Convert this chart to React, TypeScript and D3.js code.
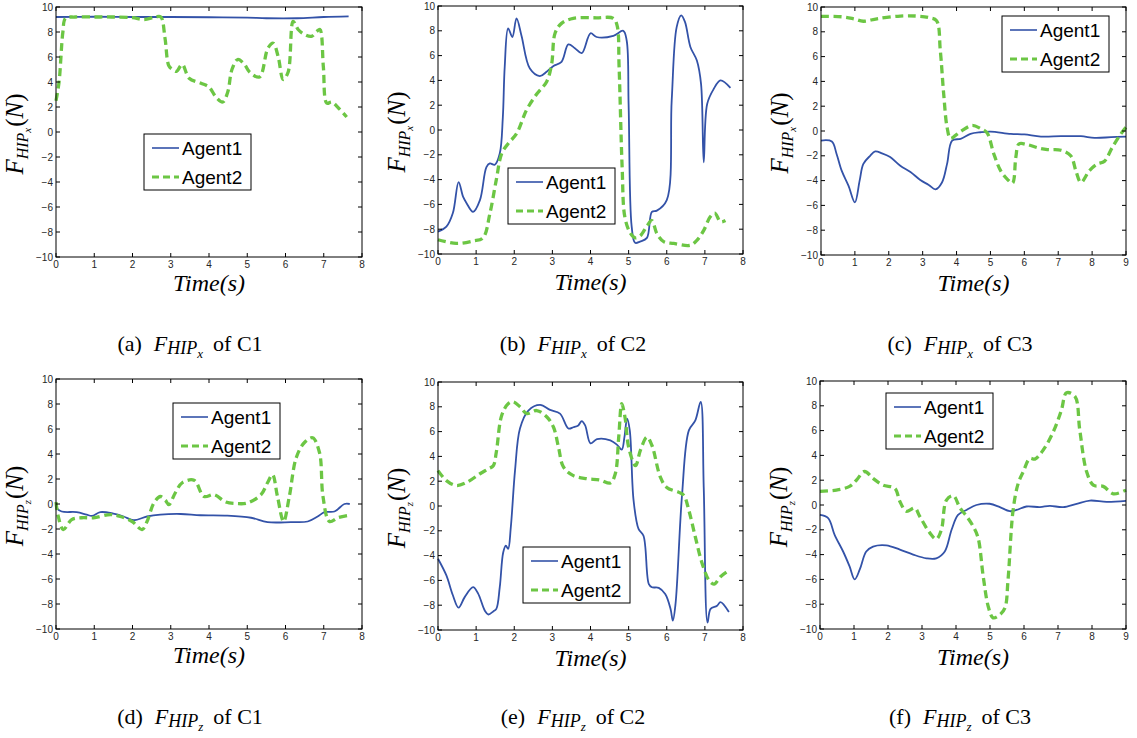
import React from 'react';
import * as d3 from 'd3';

// Force (N) over time (s) for each case
const a1 = [[0, 9.2], [1, 9.22], [2, 9.2], [3, 9.2], [4, 9.18], [5, 9.15], [5.5, 9.1], [6.3, 9.1], [7, 9.2], [7.65, 9.25]];
const a2 = [[0, 2.5], [0.08, 4.0], [0.18, 8.0], [0.25, 9.1], [0.5, 9.2], [1, 9.2], [1.5, 9.2], [2, 9.15], [2.3, 9.0], [2.6, 9.2], [2.74, 9.2], [2.85, 7.5], [2.95, 5.3], [3.05, 5.0], [3.15, 4.85], [3.3, 5.4], [3.48, 4.3], [3.79, 3.9], [4.0, 3.6], [4.18, 2.8], [4.36, 2.4], [4.49, 3.2], [4.6, 5.0], [4.75, 5.8], [4.93, 5.4], [5.06, 4.8], [5.32, 4.4], [5.54, 6.7], [5.68, 7.1], [5.81, 6.0], [5.94, 4.2], [6.07, 4.8], [6.2, 8.85], [6.33, 8.2], [6.5, 7.8], [6.68, 7.65], [6.82, 8.05], [6.9, 8.2], [6.99, 5.2], [7.08, 2.3], [7.21, 2.4], [7.39, 1.9], [7.6, 1.2]];

const b1 = [[0, -8.2], [0.22, -7.8], [0.39, -6.7], [0.54, -4.2], [0.66, -5.4], [0.75, -5.9], [0.92, -6.6], [1.1, -5.65], [1.27, -3.0], [1.36, -2.7], [1.49, -2.8], [1.62, -1.9], [1.7, 1.0], [1.75, 5.1], [1.84, 8.2], [1.95, 7.5], [2.06, 9.0], [2.19, 7.6], [2.41, 4.95], [2.67, 4.35], [2.85, 4.7], [3.02, 5.15], [3.24, 5.5], [3.42, 6.9], [3.59, 6.6], [3.77, 6.2], [4.0, 7.8], [4.16, 7.5], [4.6, 7.6], [4.86, 8.0], [4.95, 7.2], [5.0, 2.0], [5.08, -7.8], [5.17, -9.1], [5.3, -9.0], [5.48, -8.7], [5.61, -6.6], [5.74, -6.5], [6.0, -5.65], [6.13, 2.4], [6.26, 8.3], [6.38, 9.25], [6.48, 8.7], [6.62, 6.7], [6.79, 5.6], [6.9, 3.7], [6.97, -2.6], [7.06, 2.1], [7.23, 3.3], [7.41, 4.0], [7.67, 3.4]];
const b2 = [[0, -8.85], [0.48, -9.15], [0.92, -8.95], [1.18, -8.7], [1.36, -6.75], [1.53, -4.0], [1.67, -1.9], [1.84, -1.1], [2.06, -0.3], [2.32, 1.6], [2.59, 2.9], [2.85, 3.9], [2.98, 5.3], [3.07, 7.8], [3.24, 8.6], [3.55, 9.0], [4.16, 9.05], [4.6, 9.0], [4.7, 8.4], [4.75, 5.1], [4.83, -3.0], [4.9, -7.0], [5.04, -8.3], [5.17, -8.7], [5.3, -8.55], [5.48, -7.75], [5.61, -7.3], [5.74, -8.35], [5.92, -9.0], [6.18, -9.15], [6.62, -9.3], [6.79, -8.9], [6.97, -8.1], [7.14, -7.0], [7.26, -6.7], [7.41, -7.4], [7.54, -7.3]];

const c1 = [[0, -0.77], [0.32, -0.85], [0.46, -1.85], [0.61, -3.2], [0.81, -4.4], [1.0, -5.75], [1.14, -4.0], [1.25, -2.65], [1.45, -2.0], [1.6, -1.65], [1.8, -1.8], [2.04, -2.1], [2.34, -2.8], [2.64, -3.3], [2.93, -3.95], [3.18, -4.35], [3.38, -4.7], [3.57, -4.15], [3.72, -2.65], [3.87, -0.77], [4.12, -0.63], [4.41, -0.23], [4.71, -0.1], [5.0, -0.05], [5.6, -0.23], [6.0, -0.28], [6.49, -0.45], [7.08, -0.42], [7.67, -0.42], [8.07, -0.55], [8.56, -0.5], [9, -0.45]];
const c2 = [[0, 9.25], [0.66, 9.2], [0.96, 9.05], [1.25, 8.85], [1.65, 9.05], [2.34, 9.27], [2.83, 9.27], [3.18, 9.15], [3.41, 8.9], [3.52, 6.5], [3.62, 3.0], [3.72, 0.3], [3.82, -0.6], [3.97, -0.35], [4.17, 0.05], [4.46, 0.45], [4.71, 0.2], [4.9, -0.15], [5.1, -1.85], [5.3, -3.2], [5.5, -3.9], [5.65, -4.2], [5.75, -2.1], [5.84, -1.05], [6.09, -1.1], [6.39, -1.35], [6.68, -1.5], [7.08, -1.55], [7.37, -2.0], [7.52, -3.2], [7.67, -4.15], [7.92, -3.2], [8.16, -2.65], [8.36, -2.45], [8.6, -1.3], [8.85, -0.23], [9, 0.3]];

const d1 = [[0, -0.3], [0.15, -0.6], [0.54, -0.65], [0.8, -0.85], [0.94, -0.95], [1.16, -0.65], [1.5, -0.77], [1.77, -1.0], [2.03, -1.3], [2.38, -1.0], [2.73, -0.85], [3.26, -0.8], [3.78, -0.9], [4.48, -0.93], [5.1, -1.1], [5.53, -1.45], [6.14, -1.45], [6.58, -1.4], [6.84, -1.0], [7.02, -0.65], [7.28, -0.6], [7.54, 0.0], [7.68, 0.0]];
const d2 = [[0, 0.15], [0.06, -1.0], [0.19, -2.05], [0.41, -1.25], [0.67, -1.1], [0.98, -1.1], [1.42, -0.85], [1.68, -1.0], [1.99, -1.4], [2.25, -2.05], [2.38, -1.4], [2.56, 0.08], [2.73, 0.6], [2.86, 0.3], [2.95, -0.05], [3.12, 0.9], [3.3, 1.7], [3.61, 1.9], [3.87, 0.6], [4.13, 0.75], [4.44, 0.16], [4.74, 0.03], [5.0, 0.08], [5.36, 0.75], [5.53, 1.7], [5.66, 2.35], [5.79, 0.6], [5.95, -1.4], [6.1, 0.6], [6.28, 3.7], [6.49, 4.9], [6.71, 5.3], [6.89, 4.1], [6.98, 0.6], [7.15, -1.4], [7.37, -1.1], [7.68, -0.9]];

const e1 = [[0, -4.25], [0.22, -5.6], [0.39, -7.2], [0.54, -8.2], [0.7, -7.35], [0.92, -6.55], [1.05, -7.05], [1.23, -8.45], [1.32, -8.75], [1.45, -8.5], [1.53, -8.3], [1.62, -6.55], [1.71, -3.75], [1.78, -3.2], [1.84, -3.45], [1.91, -1.7], [2.02, 2.85], [2.15, 6.25], [2.37, 7.7], [2.68, 8.15], [2.94, 7.75], [3.2, 7.45], [3.42, 6.25], [3.55, 6.35], [3.68, 6.5], [3.77, 6.85], [3.86, 6.5], [4.0, 5.05], [4.17, 5.4], [4.52, 5.3], [4.69, 4.95], [4.82, 4.55], [4.89, 5.55], [4.96, 7.05], [5.03, 6.1], [5.13, 0.45], [5.26, -1.85], [5.39, -2.4], [5.53, -6.3], [5.61, -6.55], [5.79, -6.6], [5.96, -7.1], [6.1, -8.3], [6.16, -9.25], [6.23, -7.9], [6.4, 0.85], [6.58, 6.1], [6.75, 6.9], [6.89, 8.4], [6.97, 1.5], [7.07, -9.4], [7.15, -8.3], [7.32, -8.05], [7.41, -7.75], [7.63, -8.55]];
const e2 = [[0, 2.85], [0.22, 2.05], [0.48, 1.65], [0.75, 1.9], [1.1, 2.6], [1.32, 3.0], [1.45, 3.25], [1.53, 4.35], [1.67, 7.3], [1.84, 8.25], [1.97, 8.4], [2.15, 8.0], [2.33, 7.45], [2.59, 7.7], [2.85, 7.2], [3.03, 6.35], [3.16, 4.75], [3.29, 3.15], [3.55, 2.45], [3.9, 2.2], [4.25, 2.1], [4.52, 1.85], [4.65, 2.6], [4.74, 5.55], [4.82, 8.25], [4.91, 7.05], [5.0, 4.75], [5.18, 3.25], [5.31, 4.5], [5.48, 5.55], [5.61, 4.9], [5.83, 2.35], [6.0, 1.5], [6.32, 1.1], [6.45, 0.85], [6.58, -0.35], [6.75, -2.5], [6.93, -4.65], [7.11, -6.0], [7.24, -6.3], [7.41, -5.7], [7.63, -5.2]];

const f1 = [[0, -0.8], [0.24, -1.05], [0.43, -2.4], [0.68, -3.75], [0.87, -4.95], [1.02, -6.0], [1.17, -5.2], [1.36, -3.75], [1.56, -3.35], [1.95, -3.25], [2.35, -3.6], [2.74, -4.0], [3.13, -4.3], [3.42, -4.3], [3.67, -3.75], [3.87, -2.0], [4.06, -0.8], [4.31, -0.4], [4.6, 0.0], [4.99, 0.1], [5.29, -0.17], [5.58, -0.5], [5.78, -0.4], [6.07, -0.12], [6.47, -0.17], [6.76, -0.07], [7.15, -0.17], [7.55, 0.1], [7.94, 0.36], [8.43, 0.25], [9, 0.33]];
const f2 = [[0, 1.1], [0.48, 1.2], [0.87, 1.5], [1.07, 2.0], [1.31, 2.7], [1.56, 2.15], [1.85, 1.6], [2.2, 1.35], [2.35, 0.28], [2.54, -0.5], [2.79, -0.25], [2.93, -0.9], [3.23, -2.25], [3.42, -2.75], [3.57, -2.0], [3.72, 0.4], [3.92, 0.75], [4.12, -0.25], [4.31, -0.9], [4.51, -1.75], [4.65, -2.65], [4.8, -5.75], [4.95, -8.2], [5.09, -9.1], [5.29, -8.85], [5.44, -8.3], [5.53, -6.05], [5.68, -0.4], [5.83, 1.75], [5.98, 2.7], [6.17, 3.75], [6.32, 3.7], [6.57, 4.45], [6.86, 5.9], [7.1, 7.65], [7.25, 9.05], [7.5, 8.75], [7.64, 6.05], [7.84, 2.7], [8.04, 1.6], [8.33, 1.5], [8.63, 0.9], [9, 1.2]];

const seriesNames = ['Agent1', 'Agent2'];
const yTicks = [-10, -8, -6, -4, -2, 0, 2, 4, 6, 8, 10];
const panelLetters = ['a', 'b', 'c', 'd', 'e', 'f'];
const panelCases = ['C1', 'C2', 'C3', 'C1', 'C2', 'C3'];
const panelAxis = ['x', 'x', 'x', 'z', 'z', 'z'];
const panelXMax = [8, 8, 9, 8, 8, 9];
const panelData = [[a1, a2], [b1, b2], [c1, c2], [d1, d2], [e1, e2], [f1, f2]];

const BLUE = '#3352a8';
const GREEN = '#6cc644';

// box geometry per panel, legend top-left
const boxes = [
  { l: 56, r: 362, t: 7, b: 257, lx: 144, ly: 134 },
  { l: 438, r: 743, t: 6, b: 254, lx: 508, ly: 168 },
  { l: 821, r: 1126, t: 7, b: 255, lx: 1002, ly: 16 },
  { l: 56, r: 362, t: 379, b: 629, lx: 173, ly: 403 },
  { l: 438, r: 743, t: 382, b: 630, lx: 523, ly: 547 },
  { l: 820, r: 1126, t: 381, b: 629, lx: 886, ly: 393 },
];
const captionX = [190, 573, 960, 190, 573, 960];
const captionY = [351, 351, 351, 724, 724, 724];

const sans = 'Liberation Sans, Arial, sans-serif';
const serif = 'Liberation Serif, Times New Roman, serif';

function Panel({ i }: { i: number }) {
  const bx = boxes[i];
  const x = d3.scaleLinear().domain([0, panelXMax[i]]).range([bx.l, bx.r]);
  const y = d3.scaleLinear().domain([-10, 10]).range([bx.b, bx.t]);
  const line = d3
    .line<number[]>()
    .x((d) => x(d[0]))
    .y((d) => y(d[1]))
    .curve(d3.curveCatmullRom.alpha(0.5));
  const xTicks = d3.range(0, panelXMax[i] + 1);
  const tl = 4;
  const cx = (bx.l + bx.r) / 2;
  const cy = (bx.t + bx.b) / 2;
  const sub = panelAxis[i];

  return (
    <g>
      {panelData[i].map((s, k) => (
        <path
          key={k}
          d={line(s) || ''}
          fill="none"
          stroke={k === 0 ? BLUE : GREEN}
          strokeWidth={k === 0 ? 1.8 : 3.3}
          strokeDasharray={k === 0 ? undefined : '8,4.5'}
          strokeLinejoin="round"
        />
      ))}
      <rect x={bx.l} y={bx.t} width={bx.r - bx.l} height={bx.b - bx.t} fill="none" stroke="#000" strokeWidth={1} />
      {xTicks.map((t) => (
        <g key={'x' + t}>
          <line x1={x(t)} x2={x(t)} y1={bx.b} y2={bx.b - tl} stroke="#000" />
          <line x1={x(t)} x2={x(t)} y1={bx.t} y2={bx.t + tl} stroke="#000" />
          <text x={x(t)} y={bx.b + 11} fontSize={10} fontFamily={sans} fill="#262626" textAnchor="middle">
            {t}
          </text>
        </g>
      ))}
      {yTicks.map((t) => (
        <g key={'y' + t}>
          <line x1={bx.l} x2={bx.l + tl} y1={y(t)} y2={y(t)} stroke="#000" />
          <line x1={bx.r} x2={bx.r - tl} y1={y(t)} y2={y(t)} stroke="#000" />
          <text x={bx.l - 3} y={y(t) + 3.5} fontSize={10} fontFamily={sans} fill="#262626" textAnchor="end">
            {t < 0 ? '\u2212' + Math.abs(t) : t}
          </text>
        </g>
      ))}
      <text x={cx} y={bx.t + 284} fontSize={24} fontFamily={serif} fontStyle="italic" textAnchor="middle">
        Time(s)
      </text>
      <text
        transform={`translate(${bx.l - 33},${cy + 2}) rotate(-90)`}
        fontFamily={serif}
        fontStyle="italic"
        fontSize={25}
        textAnchor="middle"
      >
        <tspan>F</tspan>
        <tspan fontSize={16} dy={5}>HIP</tspan>
        <tspan fontSize={11} dy={3}>{sub}</tspan>
        <tspan dy={-8} dx={1} fontStyle="normal">(</tspan>
        <tspan>N</tspan>
        <tspan fontStyle="normal">)</tspan>
      </text>
      <g>
        <rect x={bx.lx} y={bx.ly} width={107} height={56} fill="#fff" stroke="#000" strokeWidth={1} />
        {seriesNames.map((n, k) => (
          <g key={n}>
            <line
              x1={bx.lx + 8}
              x2={bx.lx + 35}
              y1={bx.ly + 14 + k * 29}
              y2={bx.ly + 14 + k * 29}
              stroke={k === 0 ? BLUE : GREEN}
              strokeWidth={k === 0 ? 1.6 : 3.2}
              strokeDasharray={k === 0 ? undefined : '7,4'}
            />
            <text x={bx.lx + 38} y={bx.ly + 21 + k * 29} fontSize={19} fontFamily={sans} fill="#000">
              {n}
            </text>
          </g>
        ))}
      </g>
      <text x={captionX[i]} y={captionY[i]} fontFamily={serif} fontSize={22} textAnchor="middle" fill="#000">
        <tspan>({panelLetters[i]})</tspan>
        <tspan dx={12} fontStyle="italic">F</tspan>
        <tspan fontStyle="italic" fontSize={18} dy={3}>HIP</tspan>
        <tspan fontStyle="italic" fontSize={13} dy={4}>{sub}</tspan>
        <tspan dy={-7} dx={10}>of {panelCases[i]}</tspan>
      </text>
    </g>
  );
}

export default function App() {
  return (
    <svg
      width={1137}
      height={738}
      style={{ position: 'absolute', left: 0, top: 0, background: '#fff' }}
    >
      <rect width={1137} height={738} fill="#fff" />
      {boxes.map((_, i) => (
        <Panel key={i} i={i} />
      ))}
    </svg>
  );
}
